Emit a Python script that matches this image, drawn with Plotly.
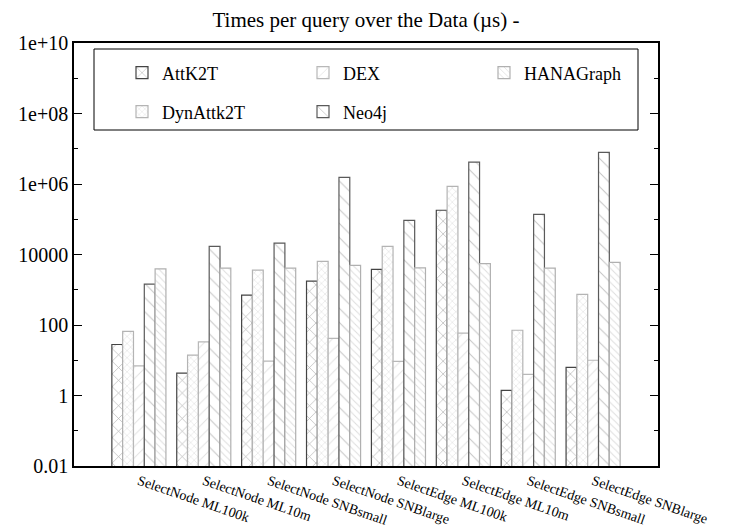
import plotly.graph_objects as go

queries = ["SelectNode ML100k", "SelectNode ML10m", "SelectNode SNBsmall", "SelectNode SNBlarge",
           "SelectEdge ML100k", "SelectEdge ML10m", "SelectEdge SNBsmall", "SelectEdge SNBlarge"]
attk2t = [28, 4.3, 700, 1750, 3800, 180000, 1.4, 6.3]
dynattk2t = [66, 14, 3600, 6400, 17000, 860000, 71, 740]
dex = [6.9, 33, 9.5, 42, 9.3, 59, 4.0, 10]
neo4j = [1450, 17000, 21000, 1.55e6, 93000, 4.2e6, 138000, 7.9e6]
hanagraph = [3900, 4100, 4100, 4900, 4200, 5500, 4100, 6000]

ytickvals = [0.01, 1, 100, 1e4, 1e6, 1e8, 1e10]
yticktext = ["0.01", "1", "100", "10000", "1e+06", "1e+08", "1e+10"]
yminor = [0.1, 10, 1e3, 1e5, 1e7, 1e9]

FONT = "Liberation Serif"
xpos = list(range(len(queries)))

series = [
    # name, values, pattern, line colour, pattern colour, size, solidity, legend, rank
    ("AttK2T", attk2t, "x", "#444444", "#555555", 9, 0.13, "legend", 1),
    ("DynAttk2T", dynattk2t, "x", "#b4b4b4", "#bdbdbd", 5, 0.2, "legend2", 4),
    ("DEX", dex, "/", "#b8b8b8", "#c4c4c4", 8, 0.12, "legend", 2),
    ("Neo4j", neo4j, "\\", "#5a5a5a", "#888888", 10, 0.1, "legend2", 5),
    ("HANAGraph", hanagraph, "\\", "#b0b0b0", "#bcbcbc", 5, 0.2, "legend", 3),
]

fig = go.Figure()
for name, vals, shp, lc, pc, sz, sol, lg, rk in series:
    fig.add_trace(go.Bar(
        x=xpos, y=vals, name=name, legend=lg, legendrank=rk,
        marker=dict(color="white",
                    line=dict(color=lc, width=1.2),
                    pattern=dict(shape=shp, fgcolor=pc, bgcolor="white",
                                 size=sz, solidity=sol)),
    ))

L, R, T, B = 74, 92, 43, 59
W, H = 750, 525
pw, ph = W - L - R, H - T - B


def px2x(px):
    return (px - L) / pw


def py2y(py):
    return (H - B - py) / ph


legend_common = dict(orientation="h", x=px2x(122), xanchor="left", yanchor="middle",
                     entrywidth=136, entrywidthmode="pixels", bgcolor="rgba(0,0,0,0)",
                     font=dict(family=FONT, size=18), traceorder="normal")

fig.update_layout(
    width=W, height=H,
    margin=dict(l=L, r=R, t=T, b=B),
    paper_bgcolor="white", plot_bgcolor="white",
    font=dict(family=FONT, size=18, color="black"),
    barmode="group", bargap=1/6, bargroupgap=0,
    title=dict(text="Times per query over the Data (µs) -", x=366 / W,
               xanchor="center", y=1 - 20 / H, yanchor="middle",
               font=dict(family=FONT, size=21)),
    legend=dict(y=py2y(73), **legend_common),
    legend2=dict(y=py2y(112), **legend_common),
    shapes=[dict(type="rect", xref="paper", yref="paper",
                 x0=px2x(94), x1=px2x(638), y0=py2y(130), y1=py2y(49),
                 line=dict(color="black", width=1), fillcolor="rgba(0,0,0,0)")],
    xaxis=dict(range=[-1, 8], tickvals=xpos, ticktext=queries, tickangle=19,
               showline=True, mirror=True, linecolor="black", linewidth=1.5,
               ticks="", showgrid=False, zeroline=False, automargin=False,
               tickfont=dict(family=FONT, size=14)),
    yaxis=dict(type="log", range=[-2, 10], tickvals=ytickvals, ticktext=yticktext,
               showline=True, mirror="ticks", linecolor="black", linewidth=1.5,
               ticks="inside", ticklen=8, tickcolor="black", showgrid=False,
               zeroline=False, automargin=False,
               tickfont=dict(family=FONT, size=20),
               minor=dict(tickvals=yminor, ticks="inside", ticklen=4, tickcolor="black",
                          showgrid=False)),
)

fig.write_html("out.html")
